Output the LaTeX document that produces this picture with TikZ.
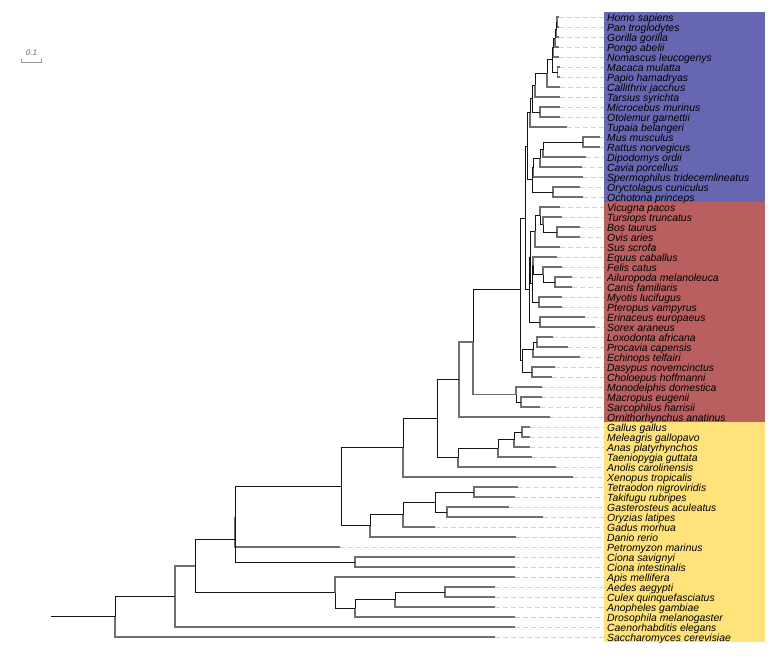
\documentclass[tikz,border=0pt]{standalone}
\usepackage{fontspec}
\setmainfont{Liberation Sans}
\definecolor{tipgray}{RGB}{112,112,112}
\definecolor{intblack}{RGB}{20,20,20}
\definecolor{dashgray}{RGB}{210,210,210}
\definecolor{bluebox}{RGB}{103,102,178}
\definecolor{redbox}{RGB}{185,95,95}
\definecolor{yellowbox}{RGB}{255,227,122}
\newcommand\lf[4]{\coordinate (#1) at (#2,#3);\coordinate (#1d) at (603.5,#3);
  \draw[guide] (#1) -- (#1d);
  \node[lab] (#1l) at (607,#3+4) {#4};}
\begin{document}
\begin{tikzpicture}[x=1pt,y=-1pt,
  tipe/.style={draw=tipgray,line width=1.15pt},
  inte/.style={draw=intblack,line width=0.9pt},
  guide/.style={draw=dashgray,line width=1pt,dash pattern=on 5pt off 3pt},
  lab/.style={anchor=base west,inner sep=0pt,font=\fontsize{10.4}{12}\selectfont\itshape,text=black},
  scalebar/.style={draw=gray!80,line width=1pt}]
\useasboundingbox (0,0) rectangle (782,659);
% background boxes
\fill[bluebox] (603.5,12) rectangle (765,202);
\fill[redbox] (603.5,202) rectangle (765,422);
\fill[yellowbox] (603.5,422) rectangle (765,642);
% leaves
\lf{homo}{559}{17}{Homo sapiens}
\lf{pan}{559}{27}{Pan troglodytes}
\lf{gor}{559}{37}{Gorilla gorilla}
\lf{pongo}{559}{47}{Pongo abelii}
\lf{nomascus}{559}{57}{Nomascus leucogenys}
\lf{macaca}{560}{67}{Macaca mulatta}
\lf{papio}{560}{77}{Papio hamadryas}
\lf{callithrix}{560}{87}{Callithrix jacchus}
\lf{tarsius}{560}{97}{Tarsius syrichta}
\lf{microcebus}{560}{107}{Microcebus murinus}
\lf{otolemur}{560}{117}{Otolemur garnettii}
\lf{tupaia}{567}{127}{Tupaia belangeri}
\lf{mus}{600}{137}{Mus musculus}
\lf{rattus}{600}{147}{Rattus norvegicus}
\lf{dipo}{586}{157}{Dipodomys ordii}
\lf{cavia}{582}{167}{Cavia porcellus}
\lf{sperm}{583}{177}{Spermophilus tridecemlineatus}
\lf{oryct}{580}{187}{Oryctolagus cuniculus}
\lf{ochot}{583}{197}{Ochotona princeps}
\lf{vicugna}{560}{207}{Vicugna pacos}
\lf{tursiops}{562}{217}{Tursiops truncatus}
\lf{bos}{580}{227}{Bos taurus}
\lf{ovis}{580}{237}{Ovis aries}
\lf{sus}{560}{247}{Sus scrofa}
\lf{equus}{557}{257}{Equus caballus}
\lf{felis}{562}{267}{Felis catus}
\lf{ailuro}{572}{277}{Ailuropoda melanoleuca}
\lf{canis}{572}{287}{Canis familiaris}
\lf{myotis}{562}{297}{Myotis lucifugus}
\lf{pteropus}{562}{307}{Pteropus vampyrus}
\lf{erinaceus}{585}{317}{Erinaceus europaeus}
\lf{sorex}{595}{327}{Sorex araneus}
\lf{loxodonta}{553}{337}{Loxodonta africana}
\lf{procavia}{568}{347}{Procavia capensis}
\lf{echinops}{580}{357}{Echinops telfairi}
\lf{dasypus}{555}{367}{Dasypus novemcinctus}
\lf{choloepus}{552}{377}{Choloepus hoffmanni}
\lf{monodelphis}{542}{387}{Monodelphis domestica}
\lf{macropus}{542}{397}{Macropus eugenii}
\lf{sarcophilus}{540}{407}{Sarcophilus harrisii}
\lf{ornitho}{550}{417}{Ornithorhynchus anatinus}
\lf{gallus}{530}{427}{Gallus gallus}
\lf{meleagris}{530}{437}{Meleagris gallopavo}
\lf{anas}{530}{447}{Anas platyrhynchos}
\lf{taenio}{532}{457}{Taeniopygia guttata}
\lf{anolis}{556}{467}{Anolis carolinensis}
\lf{xenopus}{573}{477}{Xenopus tropicalis}
\lf{tetraodon}{518}{487}{Tetraodon nigroviridis}
\lf{takifugu}{515}{497}{Takifugu rubripes}
\lf{gast}{509}{507}{Gasterosteus aculeatus}
\lf{oryzias}{543}{517}{Oryzias latipes}
\lf{gadus}{435}{527}{Gadus morhua}
\lf{danio}{516}{537}{Danio rerio}
\lf{petromyzon}{340}{547}{Petromyzon marinus}
\lf{cionas}{515}{557}{Ciona savignyi}
\lf{cionai}{515}{567}{Ciona intestinalis}
\lf{apis}{515}{577}{Apis mellifera}
\lf{aedes}{495}{587}{Aedes aegypti}
\lf{culex}{495}{597}{Culex quinquefasciatus}
\lf{anopheles}{495}{607}{Anopheles gambiae}
\lf{dros}{515}{617}{Drosophila melanogaster}
\lf{caeno}{515}{627}{Caenorhabditis elegans}
\lf{sacch}{495}{637}{Saccharomyces cerevisiae}
% internal nodes
\coordinate (nHP) at (557,22);
\coordinate (nHPG) at (556,29.5);
\coordinate (nHPGP) at (555,38.25);
\coordinate (nApes) at (553.5,47.6);
\coordinate (nOWM) at (557.5,72);
\coordinate (nCat) at (552,59.8);
\coordinate (nAnth) at (547,73.4);
\coordinate (nHaplo) at (535,85.2);
\coordinate (nStrep) at (540,112);
\coordinate (nPrim) at (532,98.6);
\coordinate (nEuarch) at (530,112.8);
\coordinate (nMur) at (583,142);
\coordinate (nMD) at (543,149.5);
\coordinate (nMDC) at (540,158.25);
\coordinate (nRod) at (533,167.6);
\coordinate (nLago) at (553,192);
\coordinate (nGlires) at (532,179.8);
\coordinate (nEuGl) at (527,146.3);
\coordinate (nBO) at (557,232);
\coordinate (nTBO) at (543,224.5);
\coordinate (nVTBO) at (540,215.75);
\coordinate (nCetart) at (535,231.4);
\coordinate (nAC) at (555,282);
\coordinate (nCarn) at (543,274.5);
\coordinate (nEC) at (533,265.75);
\coordinate (nChir) at (539,302);
\coordinate (nECC) at (532,283.9);
\coordinate (nScrot) at (530,257.6);
\coordinate (nEul) at (540,322);
\coordinate (nLaura) at (529,289.8);
\coordinate (nBoreo) at (525,218);
\coordinate (nLP) at (537,342);
\coordinate (nAfro) at (533,349.5);
\coordinate (nXen) at (532,372);
\coordinate (nAtl) at (522,360.75);
\coordinate (nPlac) at (520,289.4);
\coordinate (nMS) at (521,402);
\coordinate (nMars) at (516,394.5);
\coordinate (nTheria) at (473,341.95);
\coordinate (nMammal) at (459,379.5);
\coordinate (nGM) at (522,432);
\coordinate (nGalloan) at (514,439.5);
\coordinate (nBirds) at (498,448.25);
\coordinate (nSaur) at (458,457.6);
\coordinate (nAmniota) at (437,418.6);
\coordinate (nTetra) at (403,447.8);
\coordinate (nTT) at (474,492);
\coordinate (nGO) at (447,512);
\coordinate (nPerco) at (435,502);
\coordinate (nPG) at (403,514.5);
\coordinate (nTeleo) at (370,525.75);
\coordinate (nOsteich) at (341,486.8);
\coordinate (nVP) at (235,516.9);
\coordinate (nCiona) at (355,562);
\coordinate (nChord) at (235,539.45);
\coordinate (nAC2) at (445,592);
\coordinate (nCul) at (395,599.5);
\coordinate (nDipt) at (355,608.25);
\coordinate (nIns) at (335,592.6);
\coordinate (nBilat) at (195,566);
\coordinate (n175) at (175,596.5);
\coordinate (nRoot) at (115,616.75);
\coordinate (rootstub) at (51,616.75);
% edges: primates
\draw[tipe] (nHP) |- (homo); \draw[tipe] (nHP) |- (pan);
\draw[inte] (nHPG) |- (nHP); \draw[tipe] (nHPG) |- (gor);
\draw[inte] (nHPGP) |- (nHPG); \draw[tipe] (nHPGP) |- (pongo);
\draw[inte] (nApes) |- (nHPGP); \draw[tipe] (nApes) |- (nomascus);
\draw[tipe] (nOWM) |- (macaca); \draw[tipe] (nOWM) |- (papio);
\draw[inte] (nCat) |- (nApes); \draw[inte] (nCat) |- (nOWM);
\draw[inte] (nAnth) |- (nCat); \draw[tipe] (nAnth) |- (callithrix);
\draw[inte] (nHaplo) |- (nAnth); \draw[tipe] (nHaplo) |- (tarsius);
\draw[tipe] (nStrep) |- (microcebus); \draw[tipe] (nStrep) |- (otolemur);
\draw[inte] (nPrim) |- (nHaplo); \draw[inte] (nPrim) |- (nStrep);
\draw[inte] (nEuarch) |- (nPrim); \draw[tipe] (nEuarch) |- (tupaia);
% glires
\draw[tipe] (nMur) |- (mus); \draw[tipe] (nMur) |- (rattus);
\draw[inte] (nMD) |- (nMur); \draw[tipe] (nMD) |- (dipo);
\draw[inte] (nMDC) |- (nMD); \draw[tipe] (nMDC) |- (cavia);
\draw[inte] (nRod) |- (nMDC); \draw[tipe] (nRod) |- (sperm);
\draw[tipe] (nLago) |- (oryct); \draw[tipe] (nLago) |- (ochot);
\draw[inte] (nGlires) |- (nRod); \draw[inte] (nGlires) |- (nLago);
\draw[inte] (nEuGl) |- (nEuarch); \draw[inte] (nEuGl) |- (nGlires);
% laurasiatheria
\draw[tipe] (nBO) |- (bos); \draw[tipe] (nBO) |- (ovis);
\draw[inte] (nTBO) |- (nBO); \draw[tipe] (nTBO) |- (tursiops);
\draw[inte] (nVTBO) |- (nTBO); \draw[tipe] (nVTBO) |- (vicugna);
\draw[inte] (nCetart) |- (nVTBO); \draw[tipe] (nCetart) |- (sus);
\draw[tipe] (nAC) |- (ailuro); \draw[tipe] (nAC) |- (canis);
\draw[inte] (nCarn) |- (nAC); \draw[tipe] (nCarn) |- (felis);
\draw[inte] (nEC) |- (nCarn); \draw[tipe] (nEC) |- (equus);
\draw[tipe] (nChir) |- (myotis); \draw[tipe] (nChir) |- (pteropus);
\draw[inte] (nECC) |- (nEC); \draw[inte] (nECC) |- (nChir);
\draw[inte] (nScrot) |- (nCetart); \draw[inte] (nScrot) |- (nECC);
\draw[tipe] (nEul) |- (erinaceus); \draw[tipe] (nEul) |- (sorex);
\draw[inte] (nLaura) |- (nScrot); \draw[inte] (nLaura) |- (nEul);
\draw[inte] (nBoreo) |- (nEuGl); \draw[inte] (nBoreo) |- (nLaura);
% atlantogenata
\draw[tipe] (nLP) |- (loxodonta); \draw[tipe] (nLP) |- (procavia);
\draw[inte] (nAfro) |- (nLP); \draw[tipe] (nAfro) |- (echinops);
\draw[tipe] (nXen) |- (dasypus); \draw[tipe] (nXen) |- (choloepus);
\draw[inte] (nAtl) |- (nAfro); \draw[inte] (nAtl) |- (nXen);
\draw[inte] (nPlac) |- (nBoreo); \draw[inte] (nPlac) |- (nAtl);
% marsupials, monotremes
\draw[tipe] (nMS) |- (macropus); \draw[tipe] (nMS) |- (sarcophilus);
\draw[inte] (nMars) |- (nMS); \draw[tipe] (nMars) |- (monodelphis);
\draw[inte] (nTheria) |- (nPlac); \draw[tipe] (nTheria) |- (nMars);
\draw[tipe] (nMammal) |- (nTheria); \draw[tipe] (nMammal) |- (ornitho);
% sauropsida
\draw[tipe] (nGM) |- (gallus); \draw[tipe] (nGM) |- (meleagris);
\draw[inte] (nGalloan) |- (nGM); \draw[tipe] (nGalloan) |- (anas);
\draw[inte] (nBirds) |- (nGalloan); \draw[tipe] (nBirds) |- (taenio);
\draw[inte] (nSaur) |- (nBirds); \draw[tipe] (nSaur) |- (anolis);
\draw[inte] (nAmniota) |- (nMammal); \draw[inte] (nAmniota) |- (nSaur);
\draw[inte] (nTetra) |- (nAmniota); \draw[tipe] (nTetra) |- (xenopus);
% fishes
\draw[tipe] (nTT) |- (tetraodon); \draw[tipe] (nTT) |- (takifugu);
\draw[tipe] (nGO) |- (gast); \draw[tipe] (nGO) |- (oryzias);
\draw[inte] (nPerco) |- (nTT); \draw[inte] (nPerco) |- (nGO);
\draw[inte] (nPG) |- (nPerco); \draw[tipe] (nPG) |- (gadus);
\draw[inte] (nTeleo) |- (nPG); \draw[tipe] (nTeleo) |- (danio);
\draw[inte] (nOsteich) |- (nTetra); \draw[inte] (nOsteich) |- (nTeleo);
\draw[inte] (nVP) |- (nOsteich); \draw[tipe] (nVP) |- (petromyzon);
\draw[tipe] (nCiona) |- (cionas); \draw[tipe] (nCiona) |- (cionai);
\draw[inte] (nChord) |- (nVP); \draw[inte] (nChord) |- (nCiona);
% insects
\draw[tipe] (nAC2) |- (aedes); \draw[tipe] (nAC2) |- (culex);
\draw[inte] (nCul) |- (nAC2); \draw[tipe] (nCul) |- (anopheles);
\draw[inte] (nDipt) |- (nCul); \draw[tipe] (nDipt) |- (dros);
\draw[inte] (nIns) |- (nDipt); \draw[tipe] (nIns) |- (apis);
\draw[inte] (nBilat) |- (nChord); \draw[inte] (nBilat) |- (nIns);
\draw[tipe] (n175) |- (nBilat); \draw[tipe] (n175) |- (caeno);
\draw[inte] (nRoot) |- (n175); \draw[tipe] (nRoot) |- (sacch);
\draw[inte] (rootstub) -- (nRoot);
% scale bar
\coordinate (sbLt) at (21,59); \coordinate (sbL) at (21,62.3);
\coordinate (sbR) at (41.3,62.3); \coordinate (sbRt) at (41.3,59);
\draw[scalebar] (sbLt) -- (sbL) -- (sbR) -- (sbRt);
\node[inner sep=0pt,font=\fontsize{8}{9}\selectfont\itshape,text=black!60] (sblab) at (31.5,53) {0.1};
\end{tikzpicture}
\end{document}
